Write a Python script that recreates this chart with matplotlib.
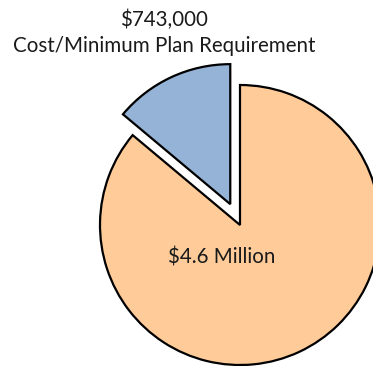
import matplotlib
matplotlib.use('Agg')
import matplotlib.pyplot as plt

# slice values and labels
values = [743000, 4600000]
labels = ['$743,000\nCost/Minimum Plan Requirement', '$4.6 Million']
colors = ['#95B3D7', '#FFCC99']

plt.rcParams['font.family'] = ['Lato', 'DejaVu Sans']

fig = plt.figure(figsize=(3.73, 3.66), dpi=100)
ax = fig.add_axes([0, 0, 1, 1])

# axes in pixel units so the pie can hang off the right edge like the original
# (explode is in data units here, i.e. pixels)
wedges, _ = ax.pie(values, colors=colors, startangle=90, counterclock=True,
                   explode=[23, 0], center=(240, 141), radius=140,
                   wedgeprops=dict(edgecolor='black', linewidth=1.6))
ax.set_xlim(0, 373)
ax.set_ylim(0, 366)
ax.set_aspect('equal')
ax.axis('off')

ax.text(164, 333, labels[0], ha='center', va='center', fontsize=14.8,
        linespacing=1.38, color='#1a1a1a')
ax.text(222, 109, labels[1], ha='center', va='center', fontsize=14.8,
        color='#1a1a1a')

fig.savefig('out.png', dpi=100)
